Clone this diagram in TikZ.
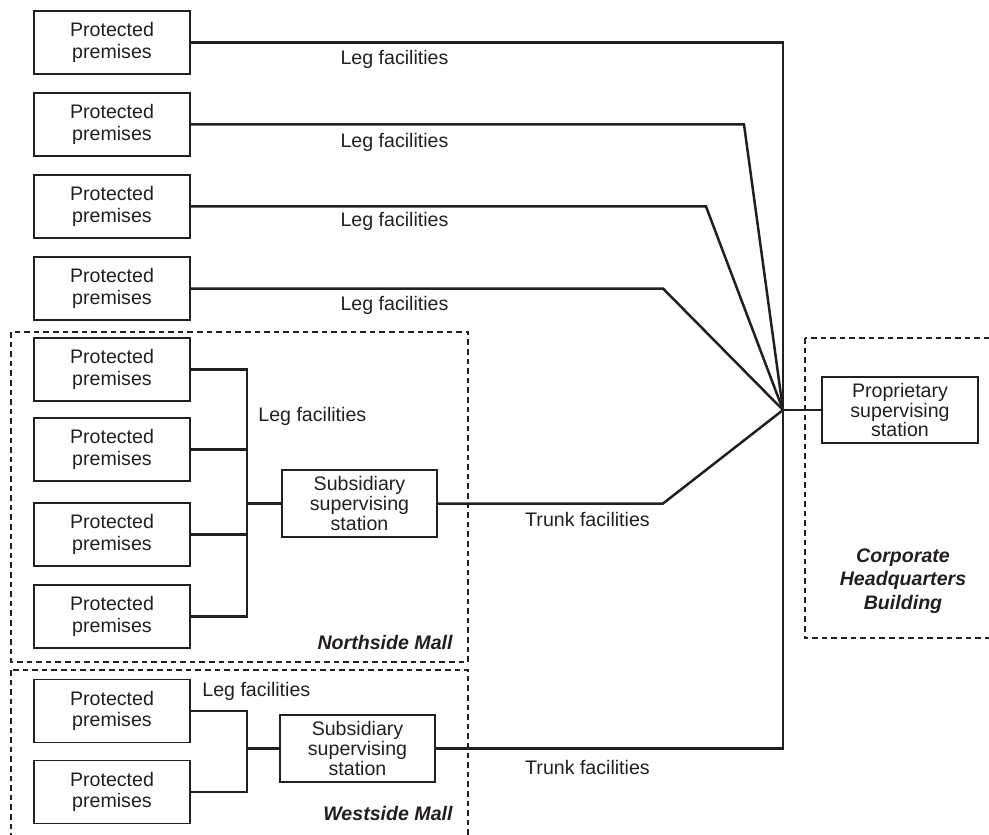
\documentclass[tikz,border=0pt]{standalone}
\usepackage{fontspec}
\setmainfont{Liberation Sans}
\usetikzlibrary{positioning}

\definecolor{ink}{RGB}{35,31,32}

\tikzset{
  premises/.style={draw=ink,text=ink,line width=0.65pt,minimum width=78pt,minimum height=31.5pt,
    inner sep=0pt,align=center,font=\fontsize{9.8}{10.7}\selectfont},
  station/.style={premises,minimum width=77.5pt,minimum height=33.5pt,
    font=\fontsize{9.8}{9.9}\selectfont},
  leg/.style={draw=ink,line width=1.25pt},
  area/.style={draw=ink,line width=0.6pt,dash pattern=on 2.8pt off 2pt},
  lbl/.style={text=ink,inner sep=0pt,font=\fontsize{9.8}{11}\selectfont},
  site/.style={text=ink,inner sep=0pt,align=center,font=\fontsize{9.8}{11.8}\selectfont\bfseries\itshape}
}

\begin{document}
\begin{tikzpicture}[x=0.5pt,y=-0.5pt]
  \useasboundingbox (0,0) rectangle (989,834);

  % dashed site outlines
  \draw[area] (11,332) rectangle (468,662);
  \draw[area] (11,670) rectangle (468,860);
  \draw[area] (805,338) rectangle (1010,638);

  % stand-alone premises
  \foreach \i/\y in {1/42.5,2/124.5,3/206.5,4/288.5}
    \node[premises] (p\i) at (112,\y) {Protected\\premises};

  % Northside Mall
  \foreach \i/\y in {1/369.5,2/449.5,3/534.5,4/616.5}
    \node[premises] (n\i) at (112,\y) {Protected\\premises};
  \node[station] (sub1) at (359.5,503.5) {Subsidiary\\supervising\\station};

  % Westside Mall
  \foreach \i/\y in {1/711,2/792}
    \node[premises] (w\i) at (112,\y) {Protected\\premises};
  \node[station] (sub2) at (357.5,748.5) {Subsidiary\\supervising\\station};

  % headquarters
  \node[station,minimum width=78pt,minimum height=33pt] (prop) at (900,410) {Proprietary\\supervising\\station};

  \coordinate (hub) at (783,410);
  \coordinate (b2) at (744,0);
  \coordinate (b3) at (706,0);
  \coordinate (b4) at (663,0);
  \coordinate (nbus) at (247,503.5);
  \coordinate (wbus) at (247,748.5);

  % leg facilities
  \draw[leg] (p1.east) -| (hub);
  \foreach \i in {2,3,4}
    \draw[leg] (p\i.east) -- (p\i.east -| b\i) -- (hub);
  \foreach \i in {1,...,4}
    \draw[leg] (n\i.east) -| (nbus);
  \draw[leg] (nbus) -- (sub1.west);
  \foreach \i in {1,2}
    \draw[leg] (w\i.east) -| (wbus);
  \draw[leg] (wbus) -- (sub2.west);

  % trunk facilities
  \draw[leg] (sub1.east) -- (sub1.east -| b4) -- (hub);
  \draw[leg] (sub2.east) -| (hub);
  \draw[leg] (hub) -- (prop.west);

  % labels
  \foreach \y in {59,142,221,305}
    \node[lbl] at (394.5,\y) {Leg facilities};
  \node[lbl,anchor=west] at (258,416) {Leg facilities};
  \node[lbl,anchor=west] at (202,691) {Leg facilities};
  \node[lbl] at (587.5,519) {Trunk facilities};
  \node[lbl] at (587.5,767) {Trunk facilities};

  \node[site,anchor=east] at (453,642) {Northside Mall};
  \node[site,anchor=east] at (453,813) {Westside Mall};
  \node[site] at (903,581) {Corporate\\Headquarters\\Building};
\end{tikzpicture}
\end{document}
